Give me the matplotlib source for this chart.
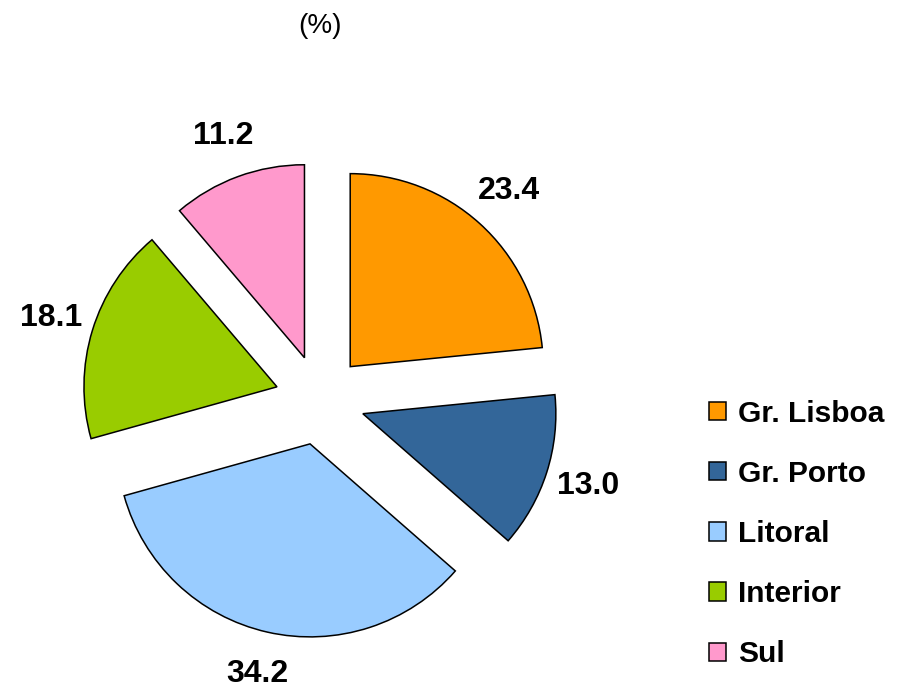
import matplotlib
matplotlib.use("Agg")
import matplotlib.pyplot as plt

regions = ["Gr. Lisboa", "Gr. Porto", "Litoral", "Interior", "Sul"]
shares = [23.4, 13.0, 34.2, 18.1, 11.2]
colors = ["#FF9900", "#336699", "#99CCFF", "#99CC00", "#FF99CC"]

plt.rcParams['font.family'] = ['Liberation Sans', 'DejaVu Sans']

fig = plt.figure(figsize=(8.98, 6.92), dpi=100)
ax = fig.add_axes([0, 0, 1, 1])

# explode is in data units (pixels here)
wedges, texts = ax.pie(
    shares, colors=colors, labels=[f"{v:.1f}" for v in shares],
    startangle=90, counterclock=False, normalize=True,
    center=(320, 692 - 400), radius=193, explode=[45] * 5,
    labeldistance=1.225, frame=True,
    wedgeprops=dict(edgecolor='black', linewidth=1.1),
    textprops=dict(fontsize=23, fontweight='bold'),
)
for t in texts:
    t.set_ha('center')
    t.set_va('center')
ax.set_xlim(0, 898)
ax.set_ylim(0, 692)
ax.set_aspect('equal')
ax.axis('off')

ax.text(320, 692 - 26, "(%)", ha='center', va='center', fontsize=20)

ax.legend(wedges, regions, loc='center left', bbox_to_anchor=(709, 692 - 534),
          bbox_transform=ax.transData, frameon=False, borderpad=0, borderaxespad=0,
          prop=dict(size=21.5, weight='bold'), handlelength=0.58, handleheight=0.58,
          handletextpad=0.4, labelspacing=1.08)

fig.savefig("out.png", dpi=100)
